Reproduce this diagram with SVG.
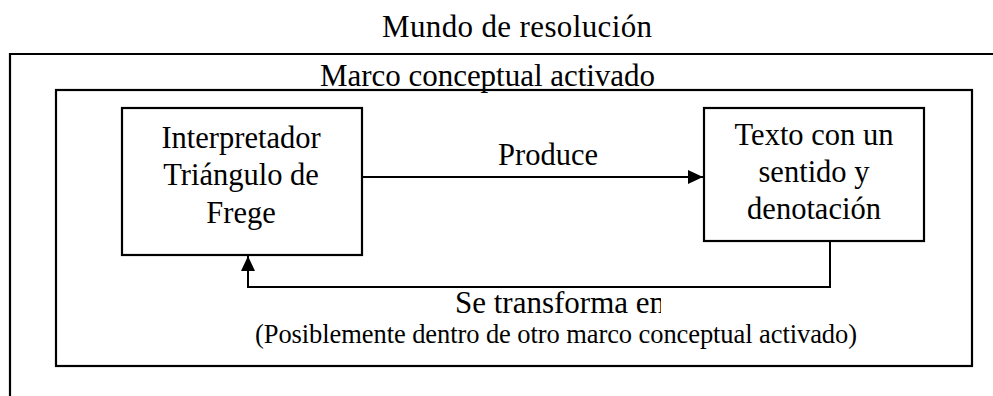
<svg xmlns="http://www.w3.org/2000/svg" width="993" height="396" viewBox="0 0 993 396">
  <style>
    .frame { fill: none; stroke: #000; stroke-width: 2.2; }
    .node { fill: #fff; stroke: #000; stroke-width: 2.2; }
    .conn { fill: none; stroke: #000; stroke-width: 2; }
    text { font-family: "Liberation Serif", "Times New Roman", serif; fill: #000; }
    .big { font-size: 31px; }
    .mid { font-size: 30.5px; text-anchor: middle; }
    .small { font-size: 26.5px; }
  </style>
  <defs>
    <marker id="arrow" markerUnits="userSpaceOnUse" markerWidth="16" markerHeight="14" refX="15" refY="7" orient="auto">
      <path d="M0,0 L15,7 L0,14 z" fill="#000"/>
    </marker>
    <clipPath id="clipSe">
      <rect x="440" y="280" width="221" height="50"/>
    </clipPath>
  </defs>

  <rect width="993" height="396" fill="#fff"/>

  <g id="mundo">
    <text class="big" x="382" y="37" textLength="270">Mundo de resolución</text>
    <path class="frame" d="M10,396 L10,54 L993,54"/>
  </g>

  <g id="marco">
    <text class="big" x="320" y="86" textLength="335">Marco conceptual activado</text>
    <rect class="frame" x="56" y="90" width="916" height="276"/>
    <text class="small" x="255" y="343" textLength="602">(Posiblemente dentro de otro marco conceptual activado)</text>
  </g>

  <g id="connectors">
    <line class="conn" x1="362" y1="177" x2="703" y2="177" marker-end="url(#arrow)"/>
    <polyline class="conn" points="830,241 830,287 248,287 248,256" marker-end="url(#arrow)"/>
    <text class="mid" x="548" y="165">Produce</text>
    <text class="big" x="455" y="313" clip-path="url(#clipSe)">Se transforma en</text>
  </g>

  <g id="interpretador">
    <rect class="node" x="122" y="108" width="240" height="147"/>
    <text class="mid" x="241" y="148">Interpretador</text>
    <text class="mid" x="241" y="185">Triángulo de</text>
    <text class="mid" x="241" y="223">Frege</text>
  </g>

  <g id="texto">
    <rect class="node" x="704" y="108" width="220" height="133"/>
    <text class="mid" x="814" y="145">Texto con un</text>
    <text class="mid" x="814" y="182">sentido y</text>
    <text class="mid" x="814" y="219">denotación</text>
  </g>
</svg>
